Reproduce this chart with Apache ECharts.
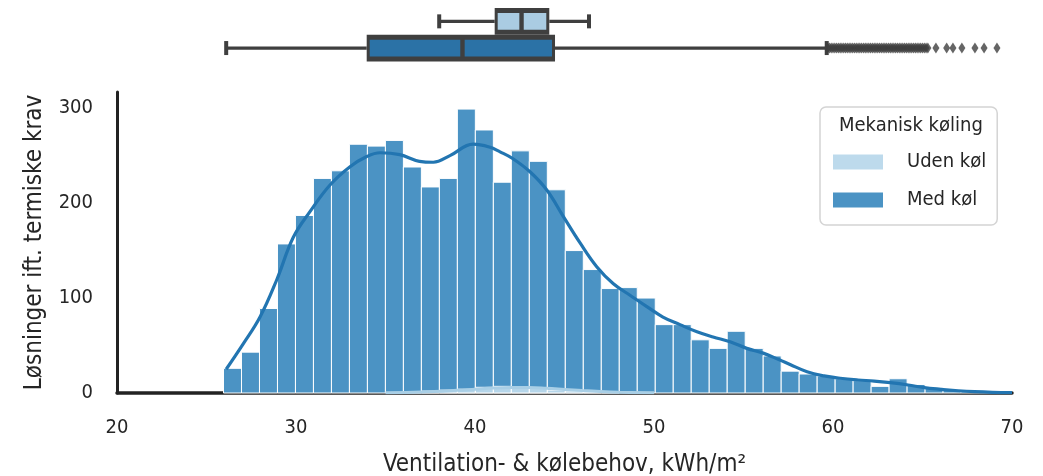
<!DOCTYPE html>
<html>
<head>
<meta charset="utf-8">
<script src="https://cdn.jsdelivr.net/npm/echarts@6/dist/echarts.min.js"></script>
<style>
  html, body { margin: 0; padding: 0; background: #fff; }
  #chart { width: 1043px; height: 476px; }
</style>
</head>
<body>
<div id="chart"></div>
<script>
// histogram bins (kWh/m²)
const binStart = 25.95;
const binWidth = 1.005;
const medCounts = [26, 43, 89, 157, 187, 226, 234, 262, 260, 266, 238, 217, 226, 299, 277,
  222, 255, 244, 214, 150, 130, 110, 111, 100, 72, 72, 56, 47, 65, 47, 39, 23, 20, 18, 15,
  13, 7, 15, 9, 6, 3, 2, 1];
const udenCounts = [0, 0, 0, 0, 0, 0, 0, 0, 0, 0, 1, 2, 3, 4, 6, 7, 6, 5, 3, 2, 1, 1, 0];

// kde curves
const medKdeX = [26.1, 27.06, 27.99, 28.92, 29.85, 30.78, 31.9, 33.0, 33.95, 34.7, 35.8, 36.9,
  37.67, 38.6, 39.9, 40.8, 41.4, 42.1, 43.07, 44.0, 44.93, 45.87, 46.8, 47.73, 48.66, 49.6,
  50.5, 51.45, 52.4, 53.3, 54.25, 55.18, 56.1, 57.0, 57.6, 58.55, 59.5, 60.4, 61.4, 62.3,
  63.2, 64.2, 65.1, 66.0, 67.0, 67.9, 68.9, 70.0];
const medKdeY = [25, 52, 80, 119, 164, 191, 219, 238, 249, 253, 251, 244, 243, 250, 262, 259,
  254, 247, 233, 214, 186, 158, 133, 115, 103, 91, 80, 72, 64.5, 59, 54, 47, 42, 35, 30, 22.4,
  18, 15.5, 13.7, 12.6, 10.9, 8.4, 5.6, 3.9, 2.4, 1.4, 0.7, 0.3];
const udenKdeX = [35, 37, 39, 40, 41, 42, 43, 44, 45, 46, 47, 48, 50];
const udenKdeY = [0.2, 1, 2.8, 4, 5.2, 5.8, 5.8, 5, 3.8, 2.6, 1.6, 0.9, 0.2];

// boxplot stats: [min, q1, median, q3, max]
const groups = ['Uden køl', 'Med køl'];
const udenBox = [38.0, 41.1, 42.6, 44.15, 46.37];
const medBox = [26.1, 33.95, 39.3, 44.47, 59.65];
const medOutliers = [59.7, 59.8, 59.9, 60.0, 60.1, 60.2, 60.3, 60.4, 60.5, 60.6, 60.7, 60.8,
  60.9, 61.0, 61.1, 61.2, 61.3, 61.4, 61.5, 61.6, 61.7, 61.8, 61.9, 62.0, 62.1, 62.2, 62.3,
  62.4, 62.5, 62.6, 62.7, 62.8, 62.9, 63.0, 63.1, 63.2, 63.3, 63.4, 63.5, 63.6, 63.7, 63.8,
  63.9, 64.0, 64.1, 64.2, 64.3, 64.4, 64.5, 64.6, 64.7, 64.8, 64.9, 65.0, 65.1, 65.2, 65.3,
  65.75, 66.35, 66.7, 67.2, 67.93, 68.44, 69.16];

const xTicks = [20, 30, 40, 50, 60, 70];

const FONT = '"Liberation Sans Narrow", "DejaVu Sans Condensed", "Liberation Sans", sans-serif';
const TXT = '#262626';
const DARK = '#3f3f3f';

function histData(counts) {
  const out = [];
  counts.forEach((c, i) => {
    if (c > 0) out.push([binStart + i * binWidth, binStart + (i + 1) * binWidth, c]);
  });
  return out;
}

function renderBar(params, api) {
  const p0 = api.coord([api.value(0), 0]);
  const p1 = api.coord([api.value(1), api.value(2)]);
  return {
    type: 'rect',
    shape: { x: p0[0], y: p1[1], width: p1[0] - p0[0], height: p0[1] - p1[1] },
    style: { fill: api.visual('color'), stroke: '#fff', lineWidth: 1 }
  };
}

function renderBox(params, api) {
  const cat = api.value(0);
  const lo = api.coord([api.value(1), cat]);
  const q1 = api.coord([api.value(2), cat]);
  const md = api.coord([api.value(3), cat]);
  const q3 = api.coord([api.value(4), cat]);
  const hi = api.coord([api.value(5), cat]);
  const half = api.size([0, 1])[1] / 2;
  const cy = lo[1];
  const fill = api.visual('color');
  return {
    type: 'group',
    children: [
      { type: 'rect', shape: { x: lo[0], y: cy - 1.6, width: q1[0] - lo[0], height: 3.2 }, style: { fill: DARK } },
      { type: 'rect', shape: { x: q3[0], y: cy - 1.6, width: hi[0] - q3[0], height: 3.2 }, style: { fill: DARK } },
      { type: 'rect', shape: { x: lo[0] - 2, y: cy - 7, width: 4, height: 14 }, style: { fill: DARK } },
      { type: 'rect', shape: { x: hi[0] - 2, y: cy - 7, width: 4, height: 14 }, style: { fill: DARK } },
      { type: 'rect', shape: { x: q1[0], y: cy - half, width: q3[0] - q1[0], height: half * 2 }, style: { fill: DARK } },
      { type: 'rect', shape: { x: q1[0] + 3, y: cy - half + 5, width: q3[0] - q1[0] - 6, height: half * 2 - 10 }, style: { fill: fill } },
      { type: 'rect', shape: { x: md[0] - 2.2, y: cy - half + 4, width: 4.4, height: half * 2 - 8 }, style: { fill: DARK } }
    ]
  };
}

const chart = echarts.init(document.getElementById('chart'));

chart.setOption({
  animation: false,
  textStyle: { fontFamily: FONT },
  grid: [
    { left: 117, right: 31, top: 92, bottom: 83, containLabel: false, outerBoundsMode: 'none' },
    { left: 117, right: 31, top: 8.0, height: 53.4, containLabel: false, outerBoundsMode: 'none' }
  ],
  xAxis: [
    {
      type: 'value', gridIndex: 0, min: 20, max: 70, interval: 10,
      name: 'Ventilation- & kølebehov, kWh/m²',
      nameLocation: 'middle', nameGap: 60,
      nameTextStyle: { fontSize: 24, color: TXT, fontFamily: FONT },
      axisLine: { show: true, lineStyle: { color: '#222', width: 3.5 } },
      axisTick: { show: false },
      splitLine: { show: false },
      axisLabel: { fontSize: 20, color: TXT, margin: 25, fontFamily: FONT,
        formatter: v => (xTicks.indexOf(v) >= 0 ? String(v) : '') }
    },
    { type: 'value', gridIndex: 1, min: 20, max: 70, show: false }
  ],
  yAxis: [
    {
      type: 'value', gridIndex: 0, min: 0, max: 317, interval: 100,
      name: 'Løsninger ift. termiske krav',
      nameLocation: 'middle', nameGap: 70, nameRotate: 90,
      nameTextStyle: { fontSize: 24, color: TXT, fontFamily: FONT },
      axisLine: { show: true, lineStyle: { color: '#222', width: 3 } },
      axisTick: { show: false },
      splitLine: { show: false },
      axisLabel: { fontSize: 20, color: TXT, margin: 24, showMaxLabel: false, fontFamily: FONT }
    },
    { type: 'category', gridIndex: 1, data: groups, inverse: true, show: false }
  ],
  legend: {
    data: ['Uden køl', 'Med køl'],
    orient: 'vertical',
    left: 820, top: 107,
    icon: 'rect',
    itemWidth: 50, itemHeight: 15, itemGap: 18,
    padding: [45, 11, 15, 13],
    borderColor: '#d4d4d4', borderWidth: 1.5, borderRadius: 6,
    textStyle: { fontSize: 20, color: TXT, lineHeight: 20, padding: [0, 0, 0, 19], fontFamily: FONT }
  },
  graphic: [
    {
      type: 'text', left: 839, top: 116, z: 10,
      style: { text: 'Mekanisk køling', fontSize: 20, fill: TXT, fontFamily: FONT }
    }
  ],
  series: [
    {
      name: 'Med køl', type: 'custom', xAxisIndex: 0, yAxisIndex: 0,
      itemStyle: { color: '#4b93c4' },
      renderItem: renderBar, data: histData(medCounts), z: 2
    },
    {
      name: 'Uden køl', type: 'custom', xAxisIndex: 0, yAxisIndex: 0,
      itemStyle: { color: '#b6d6ea', opacity: 0.9 },
      renderItem: renderBar, data: histData(udenCounts), z: 3
    },
    {
      name: 'kde Med køl', type: 'line', xAxisIndex: 0, yAxisIndex: 0,
      data: medKdeX.map((x, i) => [x, medKdeY[i]]),
      smooth: 0.4, showSymbol: false, z: 4,
      lineStyle: { color: '#2275b1', width: 3.2 }
    },
    {
      name: 'kde Uden køl', type: 'line', xAxisIndex: 0, yAxisIndex: 0,
      data: udenKdeX.map((x, i) => [x, udenKdeY[i]]),
      smooth: 0.4, showSymbol: false, z: 4,
      lineStyle: { color: '#a9cfe6', width: 3 }
    },
    {
      name: 'box', type: 'custom', xAxisIndex: 1, yAxisIndex: 1,
      renderItem: renderBox,
      data: [
        { value: [0].concat(udenBox), itemStyle: { color: '#aacce2' } },
        { value: [1].concat(medBox), itemStyle: { color: '#2b72a6' } }
      ]
    },
    {
      name: 'outliers', type: 'scatter', xAxisIndex: 1, yAxisIndex: 1,
      symbol: 'diamond', symbolSize: [7, 11],
      itemStyle: { color: DARK },
      data: medOutliers.map(v => [v, 1])
    }
  ]
});
</script>
</body>
</html>
